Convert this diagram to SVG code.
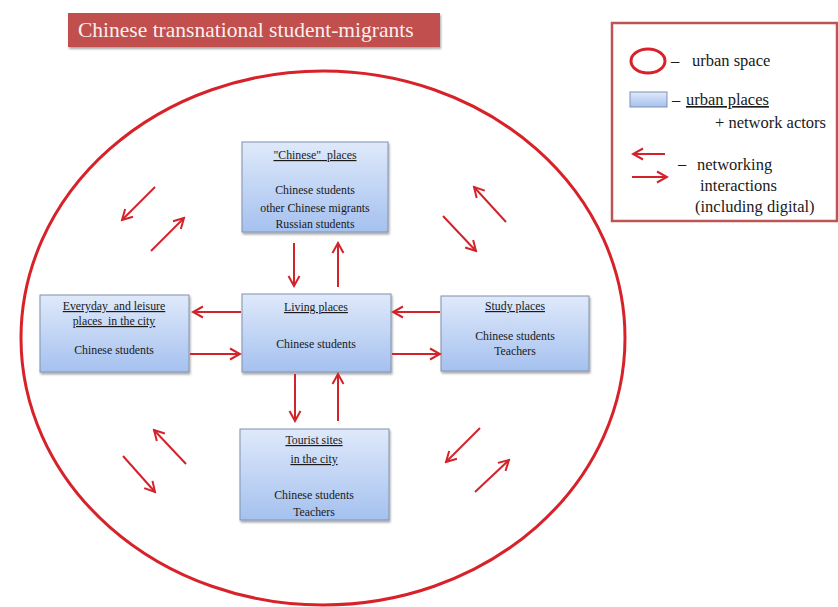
<svg xmlns="http://www.w3.org/2000/svg" width="838" height="607" viewBox="0 0 838 607">
<style>
.t{font-family:"Liberation Serif","Times New Roman",serif;fill:#1a1a1a}
.bt{font-size:11.8px;text-anchor:middle}
.u{text-decoration:underline}
.pre{white-space:pre}
.lg{font-size:16.5px}
.box{fill:url(#bg);stroke:#8092ad;stroke-width:1;filter:url(#sh)}
.ar{stroke:#d3232a;stroke-width:2;fill:none;marker-end:url(#ah)}
</style>
<defs>
<linearGradient id="bg" x1="0" y1="0" x2="0" y2="1">
<stop offset="0" stop-color="#dfe9fa"/>
<stop offset="1" stop-color="#a5c1ef"/>
</linearGradient>
<filter id="sh" x="-10%" y="-10%" width="125%" height="130%">
<feDropShadow dx="1" dy="2" stdDeviation="1.2" flood-color="#000" flood-opacity="0.35"/>
</filter>
<marker id="ah" markerUnits="userSpaceOnUse" markerWidth="14" markerHeight="14" viewBox="0 0 14 14" refX="12" refY="7" orient="auto">
<path d="M2,1.5 L12,7 L2,12.5" stroke="#d3232a" stroke-width="2" fill="none"/>
</marker>
</defs>
<rect width="838" height="607" fill="#fff"/>

<g id="title">
<rect x="68" y="13" width="372" height="34" fill="#c0504d" filter="url(#sh)"/>
<text x="78" y="37" font-family="Liberation Serif,serif" font-size="21.5" fill="#fbeeee">Chinese transnational student-migrants</text>
</g>

<g id="legend">
<rect x="612" y="23" width="225" height="198" fill="#fff" stroke="#bd5554" stroke-width="2.5"/>
<ellipse cx="648" cy="61" rx="17" ry="12" fill="none" stroke="#d8222a" stroke-width="3"/>
<text class="t lg" x="671" y="66">–</text>
<text class="t lg" x="692" y="66">urban space</text>
<rect x="630" y="92" width="37" height="15" fill="url(#bg)" stroke="#8092ad"/>
<text class="t lg" x="672" y="105">–</text>
<text class="t lg u" x="686" y="105">urban places</text>
<text class="t lg" x="715" y="128">+ network actors</text>
<line x1="665" y1="154" x2="633" y2="154" class="ar"/>
<line x1="632" y1="177" x2="667" y2="177" class="ar"/>
<text class="t lg" x="678" y="169">–</text>
<text class="t lg" x="697" y="170">networking</text>
<text class="t lg" x="700" y="191">interactions</text>
<text class="t lg" x="695" y="212">(including digital)</text>
</g>

<g id="urban-space">
<ellipse cx="323" cy="338" rx="302" ry="267" fill="none" stroke="#d8222a" stroke-width="3"/>
</g>

<g id="chinese-places">
<rect class="box" x="242" y="142" width="146" height="90"/>
<text class="t bt u pre" x="315" y="159" xml:space="preserve">"Chinese"  places</text>
<text class="t bt" x="315" y="194">Chinese students</text>
<text class="t bt" x="315" y="212">other Chinese migrants</text>
<text class="t bt" x="315" y="228">Russian students</text>
</g>

<g id="everyday-places">
<rect class="box" x="40" y="295" width="149" height="77"/>
<text class="t bt u pre" x="114" y="310" xml:space="preserve">Everyday  and leisure</text>
<text class="t bt u pre" x="114" y="325" xml:space="preserve">places  in the city</text>
<text class="t bt" x="114" y="354">Chinese students</text>
</g>

<g id="living-places">
<rect class="box" x="242" y="294" width="149" height="78"/>
<text class="t bt u" x="316" y="311">Living places</text>
<text class="t bt" x="316" y="348">Chinese students</text>
</g>

<g id="study-places">
<rect class="box" x="441" y="296" width="148" height="75"/>
<text class="t bt u" x="515" y="310">Study places</text>
<text class="t bt" x="515" y="340">Chinese students</text>
<text class="t bt" x="515" y="355">Teachers</text>
</g>

<g id="tourist-sites">
<rect class="box" x="240" y="429" width="149" height="91"/>
<text class="t bt u" x="314" y="444">Tourist sites</text>
<text class="t bt u" x="314" y="463">in the city</text>
<text class="t bt" x="314" y="499">Chinese students</text>
<text class="t bt" x="314" y="516">Teachers</text>
</g>

<g id="connectors">
<line x1="294" y1="243" x2="294" y2="286" class="ar"/>
<line x1="338" y1="287" x2="338" y2="243" class="ar"/>
<line x1="295" y1="374" x2="295" y2="421" class="ar"/>
<line x1="338" y1="421" x2="338" y2="374" class="ar"/>
<line x1="241" y1="312" x2="193" y2="312" class="ar"/>
<line x1="190" y1="354" x2="240" y2="354" class="ar"/>
<line x1="440" y1="312" x2="393" y2="312" class="ar"/>
<line x1="392" y1="354" x2="440" y2="354" class="ar"/>
<line x1="155" y1="187" x2="122" y2="220" class="ar"/>
<line x1="151" y1="251" x2="184" y2="218" class="ar"/>
<line x1="506" y1="222" x2="474" y2="187" class="ar"/>
<line x1="443" y1="216" x2="476" y2="251" class="ar"/>
<line x1="186" y1="464" x2="154" y2="430" class="ar"/>
<line x1="123" y1="456" x2="155" y2="492" class="ar"/>
<line x1="480" y1="428" x2="446" y2="462" class="ar"/>
<line x1="475" y1="492" x2="509" y2="460" class="ar"/>
</g>
</svg>
